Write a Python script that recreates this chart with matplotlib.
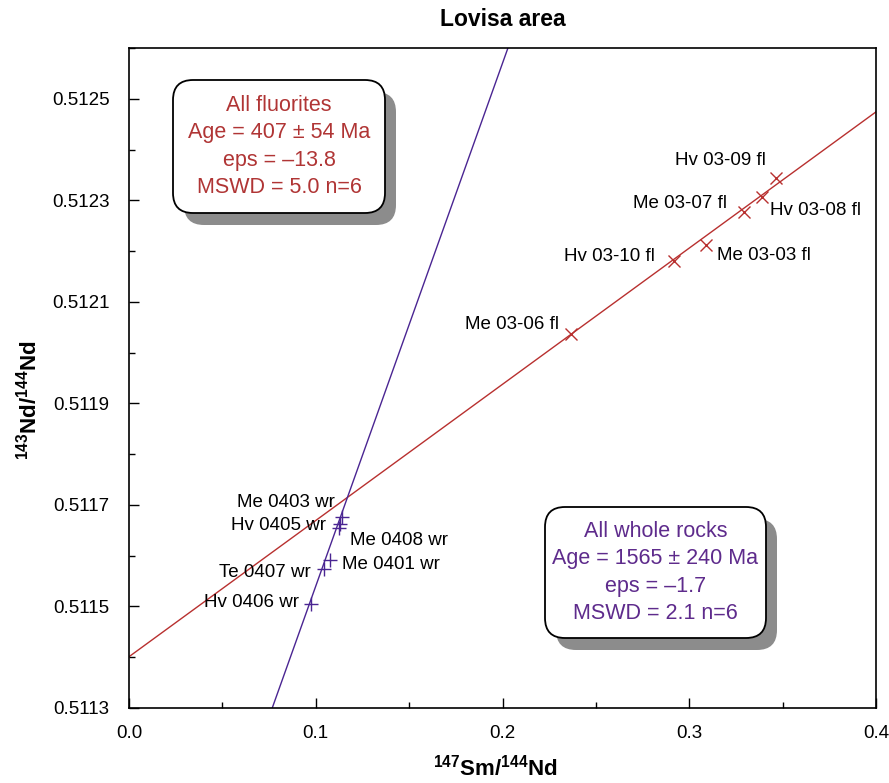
import matplotlib

matplotlib.use("Agg")
import matplotlib.pyplot as plt
import numpy as np
from matplotlib.patches import FancyBboxPatch
from matplotlib.ticker import FormatStrFormatter, MultipleLocator
from matplotlib.transforms import ScaledTranslation

plt.rcParams["font.family"] = ["Liberation Sans", "DejaVu Sans"]
plt.rcParams["mathtext.fontset"] = "custom"
plt.rcParams["mathtext.rm"] = "Liberation Sans"
plt.rcParams["mathtext.bf"] = "Liberation Sans:bold"

# fluorite separates
fl_names = ["Hv 03-09 fl", "Hv 03-08 fl", "Me 03-07 fl", "Me 03-03 fl", "Hv 03-10 fl", "Me 03-06 fl"]
fl_sm_nd = [0.3466, 0.3388, 0.3291, 0.3090, 0.2921, 0.2365]
fl_nd_nd = [0.512343, 0.512306, 0.512277, 0.512212, 0.512180, 0.512037]

# whole rocks
wr_names = ["Me 0403 wr", "Hv 0405 wr", "Me 0408 wr", "Me 0401 wr", "Te 0407 wr", "Hv 0406 wr"]
wr_sm_nd = [0.1143, 0.1131, 0.1124, 0.1074, 0.1043, 0.0974]
wr_nd_nd = [0.511677, 0.511662, 0.511655, 0.511592, 0.511573, 0.511504]

# isochron fits: (intercept, slope)
fl_fit = (0.511401, 0.002683)
wr_fit = (0.510510, 0.0103)

fl_summary = ["All fluorites", "Age = 407 \u00b1 54 Ma", "eps = \u201313.8", "MSWD = 5.0 n=6"]
wr_summary = ["All whole rocks", "Age = 1565 \u00b1 240 Ma", "eps = \u20131.7", "MSWD = 2.1 n=6"]

x_ticks = [0.0, 0.1, 0.2, 0.3, 0.4]
y_ticks = [0.5113, 0.5115, 0.5117, 0.5119, 0.5121, 0.5123, 0.5125]

# label placement in pixels relative to each point: (dx, dy, ha)
fl_offsets = [(-10, 18, "right"), (8, -13, "left"), (-17, 8, "right"),
              (11, -11, "left"), (-20, 5, "right"), (-12, 9, "right")]
wr_offsets = [(-8, 14, "right"), (-14, -1, "right"), (11, -13, "left"),
              (12, -5, "left"), (-13, -3, "right"), (-12, 2, "right")]

RED = "#b8302f"
RED_TEXT = "#b03535"
PURPLE = "#4a2592"
PURPLE_TEXT = "#5e2b8c"

DPI = 100
fig = plt.figure(figsize=(8.89, 7.83), dpi=DPI)
ax = fig.add_axes([129 / 889, 75 / 783, 747 / 889, 660 / 783])

xlim = (0.0, 0.4)
ylim = (0.5113, 0.5126)
xs = np.array(xlim)
ax.plot(xs, fl_fit[0] + fl_fit[1] * xs, color=RED, lw=1.0, zorder=2)
ax.plot(xs, wr_fit[0] + wr_fit[1] * xs, color=PURPLE, lw=1.0, zorder=2)

ax.plot(fl_sm_nd, fl_nd_nd, ls="none", marker="x", ms=9, mew=1.0, color=RED, zorder=3)
ax.plot(wr_sm_nd, wr_nd_nd, ls="none", marker="+", ms=10, mew=1.0, color=PURPLE, zorder=3)

for name, x, y, (dx, dy, ha) in zip(fl_names, fl_sm_nd, fl_nd_nd, fl_offsets):
    ax.annotate(name, (x, y), xytext=(dx, dy), textcoords="offset pixels",
                ha=ha, va="center", fontsize=13.5)
for name, x, y, (dx, dy, ha) in zip(wr_names, wr_sm_nd, wr_nd_nd, wr_offsets):
    ax.annotate(name, (x, y), xytext=(dx, dy), textcoords="offset pixels",
                ha=ha, va="center", fontsize=13.5)

ax.set_xlim(*xlim)
ax.set_ylim(*ylim)
ax.set_xticks(x_ticks)
ax.set_yticks(y_ticks)
ax.xaxis.set_minor_locator(MultipleLocator(0.05))
ax.yaxis.set_minor_locator(MultipleLocator(0.0001))
ax.xaxis.set_major_formatter(FormatStrFormatter("%.1f"))
ax.yaxis.set_major_formatter(FormatStrFormatter("%.4f"))
ax.tick_params(which="both", direction="in", top=False, right=False, labelsize=13.5, width=1.0)
ax.tick_params(which="major", length=7)
ax.tick_params(which="minor", length=4)
ax.tick_params(axis="x", pad=12)
ax.tick_params(axis="y", pad=14)
for sp in ax.spines.values():
    sp.set_linewidth(1.2)

ax.set_xlabel(r"$\mathbf{^{147}Sm/^{144}Nd}$", fontsize=16)
ax.xaxis.set_label_coords(366 / 747, -47 / 660)
ax.set_ylabel(r"$\mathbf{^{143}Nd/^{144}Nd}$", fontsize=16)
ax.yaxis.set_label_coords(-88 / 747, 308 / 660)
ax.set_title("Lovisa area", fontsize=16.5, fontweight="bold", pad=16)


def summary_box(left, top, right, bottom, lines, color):
    # box corners given in pixels from the top-left of the figure
    h = 783
    x0, y0 = left / DPI, (h - bottom) / DPI
    w, hh = (right - left) / DPI, (bottom - top) / DPI
    shadow = FancyBboxPatch((x0, y0), w, hh, boxstyle="round,pad=0,rounding_size=0.2",
                            transform=fig.dpi_scale_trans + ScaledTranslation(0.11, -0.12, fig.dpi_scale_trans),
                            facecolor="#8c8c8c", edgecolor="none", zorder=4, clip_on=False)
    box = FancyBboxPatch((x0, y0), w, hh, boxstyle="round,pad=0,rounding_size=0.2",
                         transform=fig.dpi_scale_trans, facecolor="white",
                         edgecolor="black", lw=1.3, zorder=5, clip_on=False)
    fig.patches.extend([shadow, box])
    fig.text((left + right) / 2 / 889, 1 - (top + bottom) / 2 / h, "\n".join(lines),
             ha="center", va="center", ma="center", color=color, fontsize=15.5,
             linespacing=1.4, zorder=6)


summary_box(173, 80, 385, 213, fl_summary, RED_TEXT)
summary_box(545, 507, 766, 638, wr_summary, PURPLE_TEXT)

fig.savefig("out.png", dpi=DPI)
